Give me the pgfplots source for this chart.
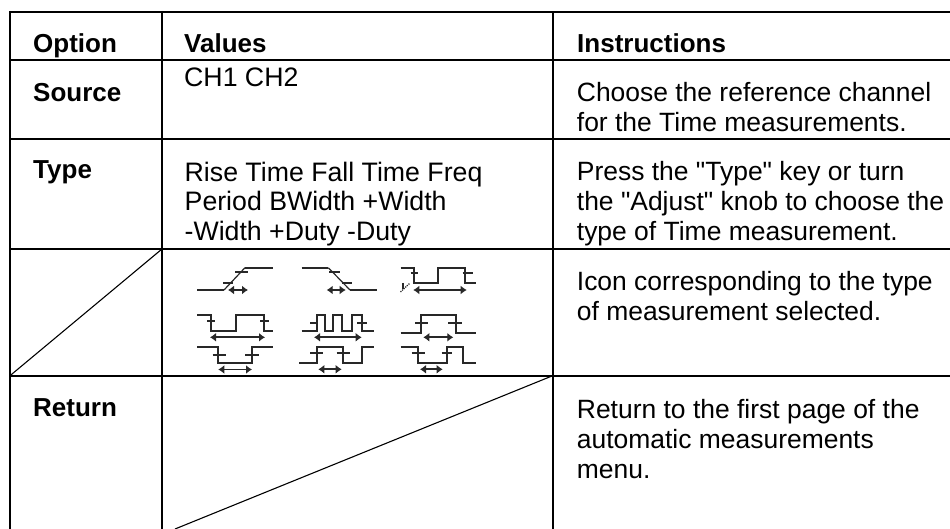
\documentclass[border=0pt]{standalone}
\usepackage[no-math]{fontspec}
\setmainfont{Liberation Sans}[Ligatures=TeXOff]
\usepackage{pgfplots}
\pgfplotsset{compat=1.18}
\usetikzlibrary{arrows.meta}
\definecolor{ic}{HTML}{282828}
\tikzset{
  grid line/.style={black, line width=2pt, line cap=butt, mark=none},
  diag/.style={black, line width=1.1pt, mark=none},
  wave/.style={ic, line width=2.2pt, mark=none, line join=miter},
  tk/.style={ic, line width=1.8pt, mark=none},
  arr/.style={ic, line width=1.8pt, mark=none, {Latex[length=6pt,width=9pt]}-{Latex[length=6pt,width=9pt]}},
  txt/.style={anchor=base west, inner sep=0pt, font=\fontsize{26.7}{30}\selectfont},
  rtxt/.style={anchor=base west, inner sep=0pt, font=\fontsize{26.45}{30}\selectfont},
  btxt/.style={anchor=base west, inner sep=0pt, font=\fontsize{26}{30}\selectfont\bfseries},
}
\begin{document}
\begin{tikzpicture}
\begin{axis}[
  hide axis, scale only axis, width=950pt, height=529pt,
  xmin=0, xmax=950, ymin=0, ymax=529, y dir=reverse,
  clip=true, no markers,
]
% table rules
\addplot[grid line] coordinates {(10,11) (10,529)};
\addplot[grid line] coordinates {(162,11) (162,529)};
\addplot[grid line] coordinates {(552.7,12) (552.7,529)};
\addplot[grid line] coordinates {(9,12) (950,12)};
\addplot[grid line] coordinates {(9,60) (950,60)};
\addplot[grid line] coordinates {(9,138.7) (950,138.7)};
\addplot[grid line] coordinates {(9,249) (950,249)};
\addplot[grid line, line width=1.6pt] coordinates {(9,375.7) (488,375.7)};
\addplot[grid line] coordinates {(488,375.7) (950,375.7)};
\addplot[diag] coordinates {(10,375.7) (162,249)};
\addplot[diag] coordinates {(552.7,375.7) (175,529)};
% icon 1: rise
\addplot[wave] coordinates {(197.3,290) (224,290)};
\addplot[wave] coordinates {(245,267.7) (273.3,267.7)};
\addplot[tk, line width=1.2pt] coordinates {(224,290) (245,267.7)};
\addplot[tk] coordinates {(223,283.3) (233,283.3)};
\addplot[tk] coordinates {(235,271.7) (248,271.7)};
\addplot[arr] coordinates {(228,290) (248,290)};
% icon 2: fall
\addplot[wave] coordinates {(301.7,267.7) (328.3,267.7)};
\addplot[wave] coordinates {(350,290) (376.7,290)};
\addplot[tk, line width=1.2pt] coordinates {(328.3,267.7) (350,290)};
\addplot[tk] coordinates {(329,271.7) (340,271.7)};
\addplot[tk] coordinates {(341.7,283.3) (351.7,283.3)};
\addplot[arr] coordinates {(326.7,290) (345.7,290)};
% icon 3: period
\addplot[wave] coordinates {(400.7,267.7) (414,267.7) (414,283.3) (438.3,283.3) (438.3,267.7) (465,267.7) (465,283.3) (476,283.3)};
\addplot[tk] coordinates {(410.7,273.3) (418.3,273.3)};
\addplot[tk] coordinates {(462.7,273.3) (472.7,273.3)};
\addplot[arr] coordinates {(413.3,290) (466.7,290)};
\addplot[tk, line width=1.2pt, densely dotted] coordinates {(400.5,292) (410,283)};
\addplot[tk, line width=1.2pt] coordinates {(403,283) (403,289)};
% icon 4, upper and lower
\addplot[wave] coordinates {(197.3,315) (210.7,315) (210.7,331) (235.7,331) (235.7,315) (264.3,315) (264.3,331) (273.3,331)};
\addplot[tk] coordinates {(207.3,320.7) (215,320.7)};
\addplot[tk] coordinates {(260,320.7) (269,320.7)};
\addplot[arr] coordinates {(210,337.3) (265,337.3)};
\addplot[wave] coordinates {(197.3,346.7) (218.3,346.7) (218.3,362.7) (251.7,362.7) (251.7,346.7) (273.3,346.7)};
\addplot[tk] coordinates {(212.7,354.7) (226,354.7)};
\addplot[tk] coordinates {(245,354.7) (259.3,354.7)};
\addplot[arr] coordinates {(218.3,369.5) (252,369.5)};
% icon 5, upper and lower
\addplot[wave] coordinates {(301.7,331) (316.7,331) (316.7,315) (325,315) (325,331) (333.3,331) (333.3,315) (342.3,315) (342.3,331) (351.7,331) (351.7,315) (361.7,315) (361.7,331) (374,331)};
\addplot[tk] coordinates {(310,323.3) (318.3,323.3)};
\addplot[tk] coordinates {(357.3,323.3) (366.7,323.3)};
\addplot[arr] coordinates {(314,337.3) (361.7,337.3)};
\addplot[wave] coordinates {(299.3,362.7) (316.7,362.7) (316.7,346.7) (343.3,346.7) (343.3,362.7) (362.3,362.7) (362.3,346.7) (374,346.7)};
\addplot[tk] coordinates {(310,352.7) (323.3,352.7)};
\addplot[tk] coordinates {(336.7,352.7) (350,352.7)};
\addplot[arr] coordinates {(318.3,369.3) (341.7,369.3)};
% icon 6, upper and lower
\addplot[wave] coordinates {(400.7,333.3) (420.7,333.3) (420.7,315) (455.7,315) (455.7,333.3) (476,333.3)};
\addplot[tk] coordinates {(415,323.3) (428.3,323.3)};
\addplot[tk] coordinates {(448.3,323.3) (461.7,323.3)};
\addplot[arr] coordinates {(423.3,337.3) (453.3,337.3)};
\addplot[wave] coordinates {(400.7,346.7) (418.3,346.7) (418.3,362.7) (446.7,362.7) (446.7,346.7) (463.3,346.7) (463.3,362.7) (476,362.7)};
\addplot[tk] coordinates {(411.7,352.7) (425,352.7)};
\addplot[tk] coordinates {(441.7,352.7) (451.7,352.7)};
\addplot[arr] coordinates {(420,369.3) (442.7,369.3)};
% text
\node[btxt] at (axis cs:33,53) {Option};
\node[btxt] at (axis cs:184,53) {Values};
\node[btxt] at (axis cs:577,53) {Instructions};
\node[btxt] at (axis cs:33,101.5) {Source};
\node[txt] at (axis cs:184,87) {CH1 CH2};
\node[rtxt] at (axis cs:576.7,102) {Choose the reference channel};
\node[rtxt] at (axis cs:576.7,131.7) {for the Time measurements.};
\node[btxt] at (axis cs:33,178.5) {Type};
\node[txt] at (axis cs:184.5,181.5) {Rise Time Fall Time Freq};
\node[txt] at (axis cs:184.5,211) {Period BWidth +Width};
\node[txt] at (axis cs:184.5,240.7) {-Width +Duty -Duty};
\node[rtxt] at (axis cs:576.7,181) {Press the "Type" key or turn};
\node[rtxt] at (axis cs:576.7,211) {the "Adjust" knob to choose the};
\node[rtxt] at (axis cs:576.7,241) {type of Time measurement.};
\node[rtxt] at (axis cs:576.7,290.7) {Icon corresponding to the type};
\node[rtxt] at (axis cs:576.7,320) {of measurement selected.};
\node[btxt] at (axis cs:33,416.7) {Return};
\node[rtxt] at (axis cs:576.7,418.5) {Return to the first page of the};
\node[rtxt] at (axis cs:576.7,448.3) {automatic measurements};
\node[rtxt] at (axis cs:576.7,478.3) {menu.};
\path (axis cs:0,0) -- (axis cs:950,529);
\end{axis}
\end{tikzpicture}
\end{document}
